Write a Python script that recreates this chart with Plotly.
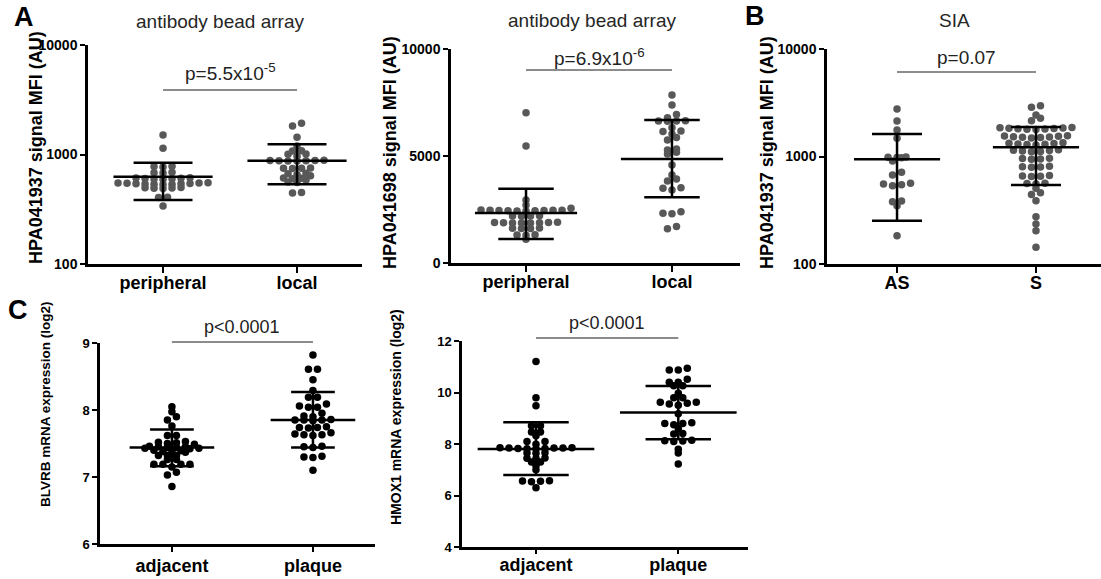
import math
import plotly.graph_objects as go

# ---------------- data ----------------
A_categories = ["peripheral", "local"]
B_categories = ["AS", "S"]
C_categories = ["adjacent", "plaque"]

A1_peripheral = [1507, 1140, 780, 775, 770, 688, 683, 678,
                 612, 609, 606, 603, 600, 597, 594,
                 552, 550, 548, 546, 544, 542, 540, 538, 536, 534, 532,
                 500, 497, 494, 491, 488, 408, 404, 339]
A1_local = [1928, 1820, 1436, 1197, 1080, 1075, 1010, 1005, 965,
            885, 882, 880, 878, 876, 874, 871, 752, 750, 747, 744,
            673, 668, 653, 640, 610, 606, 600, 584, 560, 556, 450, 446]
A1_mean = [626, 878]
A1_upper = [841, 1239]
A1_lower = [384, 534]

A2_peripheral = [7023, 5467, 2944, 2710, 2555,
                 2475, 2470, 2465, 2460, 2455, 2450, 2445, 2440, 2435, 2430,
                 2205, 2200, 2195, 2190,
                 1900, 1895, 1890, 1885, 1880, 1875, 1870, 1865,
                 1630, 1625, 1615, 1610, 1320, 1310, 1300, 1107]
A2_local = [7850, 7383, 6940, 6790, 6650, 6640, 6630, 6620, 6320, 6170, 6150,
            6030, 5870, 5750, 5330, 5280, 5170, 5090, 4580, 4110, 3925, 3830,
            3520, 3490, 3410, 2400, 2330, 2300, 1700, 1600]
A2_mean = [2336, 4860]
A2_upper = [3474, 6680]
A2_lower = [1121, 3070]

B_AS = [2766, 2138, 1765, 1476, 990, 985, 980, 975, 908, 713, 673,
        565, 555, 545, 535, 385, 380, 348, 183]
B_S = [2973, 2870, 2432, 2265, 2152,
       1860, 1850, 1840, 1830, 1820, 1810, 1800, 1790, 1780,
       1560, 1550, 1540, 1530, 1520, 1510, 1500, 1490,
       1340, 1330, 1320, 1310, 1300, 1290, 1280,
       1155, 1145, 1135, 1125, 1115, 1105,
       965, 960, 950, 945,
       810, 805, 800, 795,
       665, 660, 655, 650,
       565, 560, 555,
       506, 460, 444, 388, 275, 236, 204, 143]
B_mean = [942, 1220]
B_upper = [1619, 1880]
B_lower = [253, 543]

C1_adjacent = [8.05, 7.975, 7.90, 7.85, 7.76, 7.62, 7.62,
               7.53, 7.52, 7.51, 7.50, 7.49,
               7.46, 7.45, 7.45, 7.44, 7.44, 7.43, 7.43, 7.42,
               7.40, 7.39, 7.38, 7.38, 7.37, 7.32, 7.32, 7.32,
               7.26, 7.26, 7.19, 7.19, 7.19, 7.19, 7.15, 7.07, 7.03, 6.86]
C1_plaque = [8.82, 8.61, 8.61, 8.45, 8.29, 8.19, 8.19, 8.09, 8.06, 8.04, 8.04,
             7.95, 7.91, 7.90, 7.86, 7.85, 7.85, 7.85, 7.84,
             7.75, 7.74, 7.74, 7.73, 7.66, 7.64, 7.63, 7.63, 7.62,
             7.46, 7.45, 7.44, 7.31, 7.30, 7.29, 7.10]
C1_mean = [7.44, 7.85]
C1_upper = [7.71, 8.27]
C1_lower = [7.16, 7.44]

C2_adjacent = [11.20, 9.80, 9.49, 8.71, 8.71, 8.47, 8.47, 8.32, 8.10, 8.10, 7.99,
               7.85, 7.85, 7.84, 7.84, 7.84, 7.83, 7.83, 7.82, 7.82,
               7.66, 7.65, 7.64, 7.46, 7.45, 7.44, 7.30, 7.30, 7.16, 7.00,
               6.57, 6.56, 6.55, 6.53, 6.30]
C2_plaque = [10.94, 10.87, 10.87, 10.51, 10.40, 10.40, 10.26, 10.26, 9.97, 9.80, 9.80,
             9.62, 9.62, 9.58, 9.55, 9.50, 9.17, 8.83, 8.80, 8.80, 8.75, 8.60,
             8.41, 8.39, 8.15, 8.13, 8.12, 8.10, 7.80, 7.65, 7.22]
C2_mean = [7.81, 9.22]
C2_upper = [8.84, 10.25]
C2_lower = [6.80, 8.18]

A_ytitle = "HPA041937 signal MFI (AU)"
A2_ytitle = "HPA041698 signal MFI (AU)"
C1_ytitle = "BLVRB mRNA expression (log2)"
C2_ytitle = "HMOX1 mRNA expression (log2)"

# ---------------- layout constants ----------------
W, H = 1101, 579
FONT = "Liberation Sans, Arial, sans-serif"
GRAY = "#585858"

panels = [
    dict(box=(88, 45, 362, 264), xr=(-0.56, 1.485), yr=(2, 4), log=True, cats=A_categories,
         groups=[A1_peripheral, A1_local], mean=A1_mean, upper=A1_upper, lower=A1_lower,
         color=GRAY, mhw=0.37, chw=0.22, yt=[100, 1000, 10000], ytt=["100", "1000", "10000"],
         ytitle=A_ytitle, ytx=36, yty=148, ytsize=18, title="antibody bead array", tx=220, ty=22,
         ptxt="p=5.5x10<sup>-5</sup>", py=72, sigy=90, psize=19, catsize=18, ticksize=14,
         xtl=6, xso=-5),
    dict(box=(451, 49, 740, 263), xr=(-0.514, 1.466), yr=(0, 10000), log=False, cats=A_categories,
         groups=[A2_peripheral, A2_local], mean=A2_mean, upper=A2_upper, lower=A2_lower,
         color=GRAY, mhw=0.35, chw=0.19, yt=[0, 5000, 10000], ytt=["0", "5000", "10000"],
         ytitle=A2_ytitle, ytx=390, yty=153, ytsize=18, title="antibody bead array", tx=592, ty=20,
         ptxt="p=6.9x10<sup>-6</sup>", py=57, sigy=70, psize=19, catsize=18, ticksize=14,
         xtl=6, xso=-5),
    dict(box=(827, 49, 1101, 264), xr=(-0.504, 1.468), yr=(2, 4), log=True, cats=B_categories,
         groups=[B_AS, B_S], mean=B_mean, upper=B_upper, lower=B_lower,
         color=GRAY, mhw=0.31, chw=0.18, yt=[100, 1000, 10000], ytt=["100", "1000", "10000"],
         ytitle=A_ytitle, ytx=767, yty=153, ytsize=18, title="SIA", tx=954, ty=20,
         ptxt="p=0.07", py=58, sigy=72, psize=19, catsize=18, ticksize=14, xtl=6, xso=-5),
    dict(box=(100, 343, 375, 544), xr=(-0.51, 1.44), yr=(6, 9), log=False, cats=C_categories,
         groups=[C1_adjacent, C1_plaque], mean=C1_mean, upper=C1_upper, lower=C1_lower,
         color="black", mhw=0.30, chw=0.155, yt=[6, 7, 8, 9], ytt=["6", "7", "8", "9"],
         ytitle=C1_ytitle, ytx=45, yty=404, ytsize=13.5, title=None, tx=0, ty=0,
         ptxt="p<0.0001", py=327, sigy=342, psize=18, catsize=18, ticksize=13, xtl=5, xso=-1),
    dict(box=(462, 341, 748, 547), xr=(-0.52, 1.49), yr=(4, 12), log=False, cats=C_categories,
         groups=[C2_adjacent, C2_plaque], mean=C2_mean, upper=C2_upper, lower=C2_lower,
         color="black", mhw=0.41, chw=0.23, yt=[4, 6, 8, 10, 12], ytt=["4", "6", "8", "10", "12"],
         ytitle=C2_ytitle, ytx=396, yty=417, ytsize=14, title=None, tx=0, ty=0,
         ptxt="p<0.0001", py=323, sigy=338, psize=18, catsize=18, ticksize=13, xtl=4, xso=-4),
]


def swarm(vals, ypx, sx, thr=3.5):
    """Prism-like column scatter: group values into rows by pixel height, centre each row."""
    idx = sorted(range(len(vals)), key=lambda i: ypx(vals[i]))
    rows = []
    for i in idx:
        y = ypx(vals[i])
        if rows and y - rows[-1][0] <= thr:
            rows[-1][1].append(i)
        else:
            rows.append((y, [i]))
    offs = [0.0] * len(vals)
    for _, members in rows:
        k = len(members)
        slots = sorted([(j - (k - 1) / 2) for j in range(k)], key=lambda s: (abs(s), s))
        for s, i in zip(slots, members):
            offs[i] = s * sx
    return offs


fig = go.Figure()
shapes = []
annotations = []
layout = {}

for n, p in enumerate(panels):
    sfx = "" if n == 0 else str(n + 1)
    xa, ya = "x" + sfx, "y" + sfx
    left, top, right, bottom = p["box"]
    xdom = [left / W, right / W]
    ydom = [1 - bottom / H, 1 - top / H]
    x_ppu = (right - left) / (p["xr"][1] - p["xr"][0])
    y0, y1 = p["yr"]
    hpx = bottom - top

    def ypx(v, y0=y0, y1=y1, log=p["log"], hpx=hpx):
        t = math.log10(v) if log else v
        return (t - y0) / (y1 - y0) * hpx

    for g, vals in enumerate(p["groups"]):
        offs = swarm(vals, ypx, 9.0)
        fig.add_trace(go.Scatter(
            x=[g + o / x_ppu for o in offs], y=vals, mode="markers",
            marker=dict(size=7.5, color=p["color"], line=dict(width=0)),
            xaxis=xa, yaxis=ya, showlegend=False, hoverinfo="skip"))

    bx, by = [], []
    for g in range(2):
        m, u, l = p["mean"][g], p["upper"][g], p["lower"][g]
        bx += [g - p["mhw"], g + p["mhw"], None, g - p["chw"], g + p["chw"], None,
               g - p["chw"], g + p["chw"], None, g, g, None]
        by += [m, m, None, u, u, None, l, l, None, l, u, None]
    fig.add_trace(go.Scatter(x=bx, y=by, mode="lines", line=dict(color="black", width=2.5),
                             xaxis=xa, yaxis=ya, showlegend=False, hoverinfo="skip"))

    layout["xaxis" + sfx] = dict(
        domain=xdom, range=list(p["xr"]), anchor=ya, showline=True, linewidth=2.5,
        linecolor="black", ticks="outside", ticklen=p["xtl"], tickwidth=2, tickcolor="black",
        tickvals=[0, 1], ticktext=p["cats"], showgrid=False, zeroline=False, automargin=False,
        ticklabelstandoff=p["xso"],
        tickfont=dict(family=FONT, size=p["catsize"], color="black", weight=700))
    layout["yaxis" + sfx] = dict(
        domain=ydom, range=list(p["yr"]), type="log" if p["log"] else "linear", anchor=xa,
        showline=True, linewidth=2.5, linecolor="black", ticks="outside", ticklen=5,
        tickwidth=2, tickcolor="black", tickvals=p["yt"], ticktext=p["ytt"],
        showgrid=False, zeroline=False, automargin=False, ticklabelstandoff=0,
        tickfont=dict(family=FONT, size=p["ticksize"], color="black", weight=700))

    shapes.append(dict(type="line", xref=xa, yref="paper", x0=0, x1=1,
                       y0=1 - p["sigy"] / H, y1=1 - p["sigy"] / H,
                       line=dict(color="#666666", width=1.5)))
    annotations.append(dict(text=p["ptxt"], xref=xa, yref="paper", x=0.5, y=1 - p["py"] / H,
                            showarrow=False, xanchor="center", yanchor="middle",
                            font=dict(family=FONT, size=p["psize"], color="#222222")))
    annotations.append(dict(text=p["ytitle"], xref="paper", yref="paper", x=p["ytx"] / W,
                            y=1 - p["yty"] / H, textangle=-90, showarrow=False,
                            xanchor="center", yanchor="middle",
                            font=dict(family=FONT, size=p["ytsize"], color="black", weight=700)))
    if p["title"]:
        annotations.append(dict(text=p["title"], xref="paper", yref="paper", x=p["tx"] / W,
                                y=1 - p["ty"] / H, showarrow=False, xanchor="center",
                                yanchor="middle",
                                font=dict(family=FONT, size=19, color="#262626")))

for letter, lx, ly in [("A", 24, 17), ("B", 755, 16), ("C", 18, 310)]:
    annotations.append(dict(text=letter, xref="paper", yref="paper", x=lx / W, y=1 - ly / H,
                            showarrow=False, xanchor="center", yanchor="middle",
                            font=dict(family=FONT, size=27, color="black", weight=700)))

fig.update_layout(width=W, height=H, autosize=False, margin=dict(l=0, r=0, t=0, b=0, pad=0),
                  template="none",
                  plot_bgcolor="white", paper_bgcolor="white", shapes=shapes,
                  annotations=annotations, showlegend=False, **layout)
fig.write_html("out.html", config={"displayModeBar": False},
               post_script="document.body.style.margin='0';document.body.style.overflow='hidden';")
